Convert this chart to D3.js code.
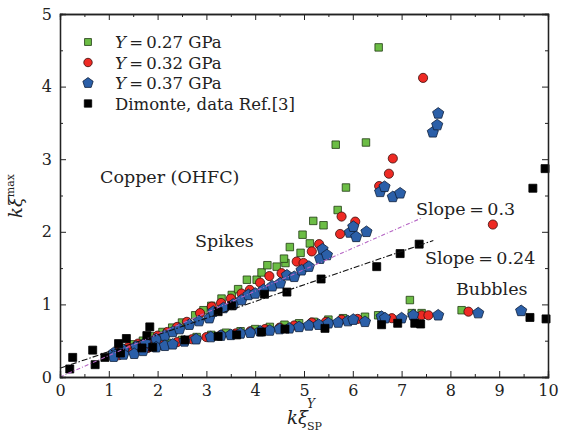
<!DOCTYPE html>
<html>
<head>
<meta charset="utf-8">
<script src="https://cdn.jsdelivr.net/npm/d3@7/dist/d3.min.js"></script>
<style>
  body { margin: 0; background: #fff; }
  text { font-family: "DejaVu Serif", "Liberation Serif", serif; fill: #222; }
</style>
</head>
<body>
<script>
// --- data ---
var seriesNames = ["Y = 0.27 GPa", "Y = 0.32 GPa", "Y = 0.37 GPa", "Dimonte, data Ref.[3]"];

var green27 = [
  [1.3,0.40],[1.5,0.45],[1.7,0.50],[1.9,0.56],[2.1,0.62],[2.3,0.68],[2.5,0.75],[2.77,0.85],[2.94,0.92],[3.1,0.98],
  [3.31,1.08],[3.52,1.13],[3.65,1.21],[3.83,1.34],[4.03,1.34],[4.13,1.44],[4.25,1.54],[4.44,1.52],[4.62,1.57],[4.59,1.63],
  [4.71,1.79],[4.93,1.71],[4.97,1.96],[5.12,1.84],[5.19,2.15],[5.40,2.09],[5.69,2.30],[5.86,2.61],[5.65,3.20],[6.27,3.23],
  [6.53,4.54],[7.17,1.06],
  [1.3,0.33],[1.6,0.38],[1.9,0.43],[2.2,0.47],[2.5,0.51],[2.8,0.55],[3.1,0.58],[3.4,0.61],[3.7,0.63],[4.0,0.66],
  [4.3,0.69],[4.6,0.72],[4.9,0.74],[5.2,0.76],[5.5,0.79],[5.8,0.81],[6.25,0.83],[6.52,0.85],[7.21,0.88],[7.41,0.88],[8.23,0.92]
];
var red32 = [
  [1.2,0.36],[1.4,0.41],[1.6,0.46],[1.8,0.51],[2.0,0.57],[2.2,0.62],[2.4,0.69],[2.6,0.76],[2.87,0.88],[3.11,0.97],
  [3.3,1.02],[3.5,1.08],[3.72,1.15],[3.89,1.20],[4.1,1.30],[4.29,1.39],[4.54,1.43],[4.85,1.59],[4.99,1.57],[5.16,1.73],
  [5.31,1.83],[5.74,1.97],[5.77,2.21],[6.05,2.14],[6.54,2.63],[6.74,2.80],[6.82,3.01],[7.44,4.12],[8.87,2.10],
  [1.2,0.30],[1.5,0.35],[1.8,0.40],[2.1,0.44],[2.4,0.48],[2.7,0.52],[3.0,0.55],[3.3,0.58],[3.6,0.60],[3.9,0.63],
  [4.2,0.66],[4.5,0.68],[4.8,0.71],[5.16,0.75],[5.45,0.76],[5.77,0.79],[6.1,0.80],[6.80,0.81],[7.41,0.85],[7.55,0.85],[8.37,0.90]
];
var blue37 = [
  [1.1,0.33],[1.3,0.37],[1.56,0.42],[1.75,0.47],[1.97,0.52],[2.15,0.57],[2.31,0.62],[2.45,0.66],[2.65,0.72],[2.85,0.77],
  [3.06,0.81],[3.14,0.90],[3.35,0.95],[3.55,1.00],[3.72,1.06],[3.86,1.13],[4.0,1.15],[4.17,1.20],[4.35,1.25],[4.51,1.29],
  [4.65,1.40],[4.8,1.38],[4.95,1.47],[5.1,1.52],[5.33,1.63],[5.38,1.76],[5.47,1.68],[5.94,1.99],[6.01,2.07],[6.07,1.93],
  [6.28,2.00],[6.56,2.55],[6.65,2.62],[6.82,2.48],[6.97,2.53],[7.64,3.37],[7.73,3.47],[7.75,3.63],
  [1.1,0.28],[1.3,0.31],[1.52,0.32],[1.7,0.36],[1.97,0.41],[2.15,0.43],[2.31,0.45],[2.55,0.49],[2.79,0.52],[3.09,0.55],
  [3.3,0.57],[3.5,0.58],[3.7,0.60],[3.9,0.61],[4.1,0.63],[4.3,0.64],[4.5,0.66],[4.7,0.67],[4.9,0.69],[5.1,0.71],
  [5.3,0.72],[5.5,0.74],[5.7,0.75],[5.9,0.77],[6.01,0.79],[6.25,0.76],[6.59,0.83],[6.66,0.81],[7.0,0.81],[7.24,0.85],
  [7.75,0.85],[8.57,0.88],[9.45,0.91]
];
var dimonte = [
  [0.20,0.11],[0.26,0.27],[0.67,0.37],[0.72,0.17],[0.92,0.27],[1.20,0.46],[1.24,0.33],[1.36,0.53],[1.68,0.40],[1.78,0.57],
  [1.84,0.69],[1.90,0.41],[2.56,0.51],[3.24,0.90],[3.24,0.56],[3.52,0.98],[3.62,0.58],[4.13,0.62],[4.19,1.14],[4.61,0.66],
  [4.65,1.17],[5.35,1.35],[5.43,0.67],[6.49,1.52],[6.59,0.72],[6.92,0.74],[6.97,1.70],[7.27,0.74],[7.36,1.83],[7.39,0.73],
  [9.63,0.82],[9.69,2.60],[9.94,2.87],[9.96,0.80]
];

// fit lines, end points
var slope03 = [[0, 0], [7.41, 2.19]];
var slope024 = [[0, 0.12], [7.65, 1.88]];

var xTicks = [0,1,2,3,4,5,6,7,8,9,10];
var yTicks = [0,1,2,3,4,5];

var width = 562, height = 434;
var margin = {left: 60, right: 14, top: 14, bottom: 57};

var svg = d3.select("body").append("svg")
  .attr("width", width).attr("height", height);

var xScale = d3.scaleLinear().domain([0, 10]).range([margin.left, width - margin.right]);
var yScale = d3.scaleLinear().domain([0, 5]).range([height - margin.bottom, margin.top]);

// pentagon symbol for d3.symbol
var pentagon = {
  draw: function(context, size) {
    var r = Math.sqrt(size / 2.3776);
    for (var i = 0; i < 5; i++) {
      var a = -Math.PI / 2 + i * 2 * Math.PI / 5;
      if (i === 0) context.moveTo(r * Math.cos(a), r * Math.sin(a));
      else context.lineTo(r * Math.cos(a), r * Math.sin(a));
    }
    context.closePath();
  }
};

var styles = [
  {data: green27, type: d3.symbolSquare, size: 56, fill: "#6cbd45", stroke: "#1f3a12"},
  {data: red32, type: d3.symbolCircle, size: 66, fill: "#ee2a24", stroke: "#3a0c0a"},
  {data: blue37, type: pentagon, size: 82, fill: "#2b5fa8", stroke: "#0f1f3a"},
  {data: dimonte, type: d3.symbolSquare, size: 64, fill: "#000", stroke: "#000"}
];

var line = d3.line().x(function(d){return xScale(d[0]);}).y(function(d){return yScale(d[1]);});

// points
styles.forEach(function(s){
  svg.append("g").selectAll("path").data(s.data).enter().append("path")
    .attr("transform", function(d){return "translate(" + xScale(d[0]) + "," + yScale(d[1]) + ")";})
    .attr("d", d3.symbol().type(s.type).size(s.size))
    .attr("fill", s.fill)
    .attr("stroke", s.stroke)
    .attr("stroke-width", 0.8);
});

// fit lines
svg.append("path").datum(slope03).attr("d", line)
  .attr("fill", "none").attr("stroke", "#b564c4").attr("stroke-width", 1.1)
  .attr("stroke-dasharray", "4,2,1,2");
svg.append("path").datum(slope024).attr("d", line)
  .attr("fill", "none").attr("stroke", "#111").attr("stroke-width", 1.1)
  .attr("stroke-dasharray", "6,2,1.5,2");

// axes with inward ticks on all sides
var minorX = d3.range(0.5, 10, 1), minorY = d3.range(0.5, 5, 1);
function addAxis(axis, tr, major, minor, labels) {
  var g = svg.append("g").attr("transform", tr);
  g.call(axis.tickValues(minor).tickSize(-3).tickFormat(""));
  var g2 = svg.append("g").attr("transform", tr);
  g2.call(axis.tickValues(major).tickSize(-6).tickPadding(8).tickFormat(labels ? d3.format("d") : ""));
  [g, g2].forEach(function(gg){
    gg.select(".domain").attr("stroke", "#222").attr("stroke-width", 1.3);
    gg.selectAll(".tick line").attr("stroke", "#222").attr("stroke-width", 1);
    gg.selectAll("text").style("font-family", "DejaVu Serif, serif").style("font-size", "16px").attr("fill", "#222");
  });
}
addAxis(d3.axisBottom(xScale), "translate(0," + yScale(0) + ")", xTicks, minorX, true);
addAxis(d3.axisTop(xScale), "translate(0," + yScale(5) + ")", xTicks, minorX, false);
addAxis(d3.axisLeft(yScale), "translate(" + xScale(0) + ",0)", yTicks, minorY, true);
addAxis(d3.axisRight(yScale), "translate(" + xScale(10) + ",0)", yTicks, minorY, false);

// legend
var leg = svg.append("g");
styles.forEach(function(s, i){
  var y = 42 + i * 20.5;
  leg.append("path")
    .attr("transform", "translate(88," + y + ")")
    .attr("d", d3.symbol().type(s.type).size(s.size * 0.85))
    .attr("fill", s.fill).attr("stroke", s.stroke).attr("stroke-width", 0.8);
  var t = leg.append("text").attr("x", 115).attr("y", y + 6).style("font-size", "16.5px");
  if (i < 3) {
    var parts = seriesNames[i].split(" = ");
    t.append("tspan").style("font-style", "italic").text(parts[0]);
    t.append("tspan").text("\u2009=\u2009" + parts[1]);
  } else {
    t.text(seriesNames[i]);
  }
});

// annotations
function note(x, y, str) {
  return svg.append("text").attr("x", x).attr("y", y).style("font-size", "17.5px").text(str);
}
note(100, 183, "Copper (OHFC)");
note(195, 247, "Spikes");
note(416, 215, "Slope\u2009=\u20090.3");
note(425, 264, "Slope\u2009=\u20090.24");
note(456, 295, "Bubbles");

// axis titles
svg.append("text").attr("x", 287).attr("y", 424).style("font-size", "18px").style("font-style", "italic").text("kξ");
svg.append("text").attr("x", 307).attr("y", 408).style("font-size", "12px").style("font-style", "italic").text("Y");
svg.append("text").attr("x", 307).attr("y", 430).style("font-size", "11px").text("SP");

var yl = svg.append("text").attr("transform", "translate(22,196) rotate(-90)").attr("text-anchor", "middle").style("font-size", "18px");
yl.append("tspan").style("font-style", "italic").text("kξ");
yl.append("tspan").attr("dy", -8).style("font-size", "11px").text("max");
</script>
</body>
</html>
